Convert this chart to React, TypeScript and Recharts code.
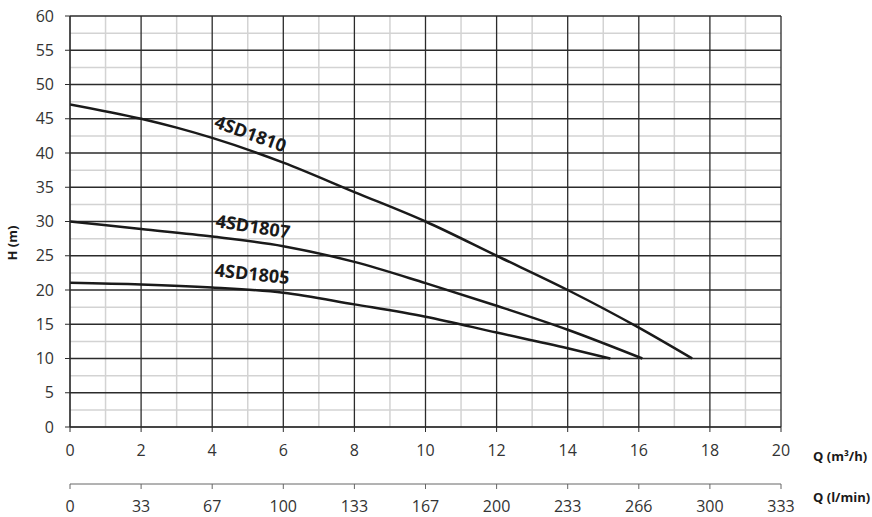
import React from 'react';
import {
  LineChart,
  Line,
  XAxis,
  YAxis,
  CartesianGrid,
  ReferenceDot,
  ReferenceLine,
} from 'recharts';

// pump curves, Q in m3/h, H in m
const q1810 = [0, 2, 3, 4, 6, 8, 10, 12, 14, 16, 17.5];
const h1810 = [47.1, 45, 43.7, 42.2, 38.6, 34.3, 30, 25, 20, 14.5, 10];
const q1807 = [0, 2, 4, 6, 8, 10, 12, 14, 16.1];
const h1807 = [30, 28.9, 27.8, 26.4, 24.1, 21, 17.7, 14.2, 10];
const q1805 = [0, 2, 4, 6, 8, 10, 12, 14, 15.2];
const h1805 = [21.05, 20.8, 20.35, 19.6, 17.9, 16.1, 13.8, 11.5, 10];

const xTicks = [0, 2, 4, 6, 8, 10, 12, 14, 16, 18, 20];
const xMinor = [1, 3, 5, 7, 9, 11, 13, 15, 17, 19];
const yTicks = [0, 5, 10, 15, 20, 25, 30, 35, 40, 45, 50, 55, 60];
const yMinor = [2.5, 7.5, 12.5, 17.5, 22.5, 27.5, 32.5, 37.5, 42.5, 47.5, 52.5, 57.5];
const lminLabels = ['0', '33', '67', '100', '133', '167', '200', '233', '266', '300', '333'];

const toRows = (q: number[], h: number[]) => q.map((v, i) => ({ q: v, h: h[i] }));

const curves = [
  { name: '4SD1810', data: toRows(q1810, h1810), lx: 4.03, ly: 43.8, angle: 20 },
  { name: '4SD1807', data: toRows(q1807, h1807), lx: 4.08, ly: 29.2, angle: 9 },
  { name: '4SD1805', data: toRows(q1805, h1805), lx: 4.06, ly: 22.0, angle: 6 },
];

const FONT = '"Open Sans", sans-serif';
const tickStyle = { fontSize: 16, fill: '#333', fontFamily: FONT };

const axisTitle = (text: string, dy: number) => ({ viewBox }: any) => (
  <text
    x={viewBox.x + viewBox.width + 32}
    y={viewBox.y + dy}
    fontSize={13}
    fontWeight="bold"
    fontFamily={FONT}
    fill="#1a1a1a"
  >
    {text}
  </text>
);

export default function App() {
  return (
    <div style={{ position: 'absolute', left: 0, top: 0, background: '#fff' }}>
      <LineChart width={872} height={517} margin={{ top: 16, right: 91, bottom: 0, left: 0 }}>
        <CartesianGrid
          xAxisId="q1"
          verticalValues={xMinor}
          horizontalValues={yMinor}
          stroke="#d3d3d3"
          strokeWidth={1.5}
        />
        <CartesianGrid
          xAxisId="q1"
          vertical={false}
          horizontalValues={yTicks}
          stroke="#2b2b2b"
          strokeWidth={1.3}
        />
        {xTicks.map((v) => (
          <ReferenceLine key={'vx' + v} xAxisId="q1" x={v} stroke="#2b2b2b" strokeWidth={1.3} />
        ))}
        <XAxis
          xAxisId="q1"
          type="number"
          dataKey="q"
          domain={[0, 20]}
          ticks={xTicks}
          height={57}
          tickSize={5}
          tickMargin={13}
          tick={tickStyle}
          stroke="#2b2b2b"
          allowDataOverflow
          label={{ content: axisTitle('Q (m³/h)', 34) }}
        />
        <XAxis
          xAxisId="q2"
          type="number"
          dataKey="q"
          domain={[0, 20]}
          ticks={xTicks}
          tickFormatter={(v: number) => lminLabels[xTicks.indexOf(v)]}
          height={33}
          tickSize={5}
          tickMargin={12}
          tick={tickStyle}
          stroke="#666"
          allowDataOverflow
          label={{ content: axisTitle('Q (l/min)', 18) }}
        />
        <YAxis
          type="number"
          domain={[0, 60]}
          ticks={yTicks}
          width={70}
          tickSize={5}
          tickMargin={11}
          tick={tickStyle}
          stroke="#2b2b2b"
          label={{
            content: () => (
              <text
                x={17}
                y={243}
                transform="rotate(-90 17 243)"
                textAnchor="middle"
                fontSize={13}
                fontWeight="bold"
                fontFamily={FONT}
                fill="#1a1a1a"
              >
                H (m)
              </text>
            ),
          }}
        />
        {curves.map((c) => (
          <Line
            key={c.name}
            xAxisId="q1"
            data={c.data}
            dataKey="h"
            type="monotone"
            stroke="#1a1a1a"
            strokeWidth={2.5}
            dot={false}
            isAnimationActive={false}
          />
        ))}
        {curves.map((c) => (
          <ReferenceDot
            key={c.name + '-lbl'}
            xAxisId="q1"
            x={c.lx}
            y={c.ly}
            r={0}
            fill="none"
            stroke="none"
            label={{
              content: ({ viewBox }: any) => {
                const x = viewBox.x;
                const y = viewBox.y;
                return (
                  <text
                    x={x}
                    y={y}
                    transform={`rotate(${c.angle} ${x} ${y})`}
                    fontSize={18}
                    fontWeight="bold"
                    fontFamily={FONT}
                    fill="#1a1a1a"
                  >
                    {c.name}
                  </text>
                );
              },
            }}
          />
        ))}
      </LineChart>
    </div>
  );
}
